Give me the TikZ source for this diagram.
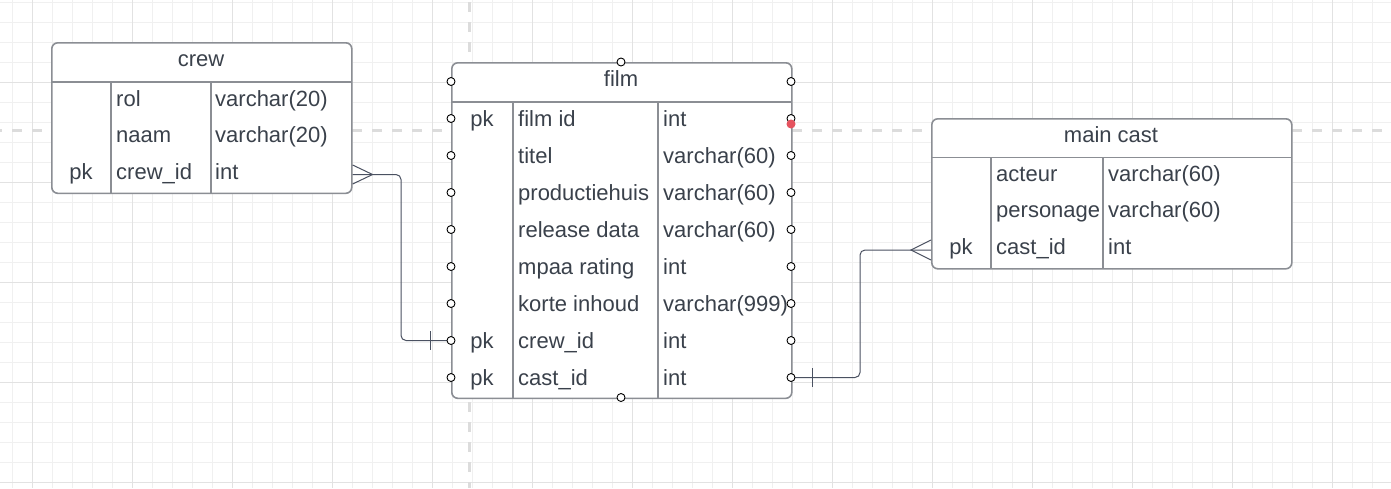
\documentclass[tikz,border=0pt]{standalone}
\usepackage{fontspec}
\setmainfont{Liberation Sans}
\usetikzlibrary{positioning}

\definecolor{gridminor}{HTML}{F0F0F0}
\definecolor{gridmajor}{HTML}{E2E2E2}
\definecolor{guide}{HTML}{DCDCDC}
\definecolor{boxline}{HTML}{8B8E94}
\definecolor{ink}{HTML}{3A414B}
\definecolor{wire}{HTML}{4A5161}
\definecolor{hover}{HTML}{E5535F}

\tikzset{
  entity/.style={draw=boxline, line width=1.6pt, fill=white, rounded corners=6pt, inner sep=0pt, anchor=north west},
  rule/.style={draw=boxline, line width=1.6pt},
  cell/.style={text=ink, font=\fontsize{22}{26}\selectfont, inner sep=0pt, anchor=base west},
  pkcell/.style={cell, anchor=base},
  title/.style={cell, anchor=base},
  port/.style={circle, draw=black, fill=white, line width=0.9pt, inner sep=0pt, minimum size=8pt},
  link/.style={draw=wire, line width=1pt, rounded corners=5pt},
  foot/.style={draw=wire, line width=1pt},
}

\begin{document}
\begin{tikzpicture}[x=1pt,y=-1pt]
    \useasboundingbox (0,0) rectangle (1391,488);
    \fill[white] (0,0) rectangle (1391,488);

    % grid
    \foreach \x in {12,32,...,1392} \draw[gridminor, line width=0.9pt] (\x,0) -- (\x,488);
    \foreach \y in {2,22,...,482} \draw[gridminor, line width=0.9pt] (0,\y) -- (1391,\y);
    \foreach \x in {32,132,...,1332} \draw[gridmajor, line width=1pt] (\x,0) -- (\x,488);
    \foreach \y in {82,182,...,482} \draw[gridmajor, line width=1pt] (0,\y) -- (1391,\y);

    % guides
    \draw[guide, line width=3pt, dash pattern=on 10pt off 10pt] (-8,130) -- (1391,130);
    \draw[guide, line width=3pt, dash pattern=on 10pt off 10pt] (469.5,2) -- (469.5,488);

    % crew
    \node[entity, minimum width=300pt, minimum height=150.5pt] (crew) at (51,42) {};
    \node[title] (crew-title) at (201,66) {crew};
    \draw[rule] (51,82) -- (351,82);
    \draw[rule] (111,82) -- (111,192.5);
    \draw[rule] (211,82) -- (211,192.5);
    \foreach \k/\field/\type [count=\i from 0] in {/rol/varchar(20), /naam/varchar(20), pk/crew\_id/int} {
        \node[pkcell] (crew-k\i) at (81,{106+36.7*\i}) {\k};
        \node[cell] (crew-f\i) at (116,{106+36.7*\i}) {\field};
        \node[cell] (crew-t\i) at (215,{106+36.7*\i}) {\type};
    }

    % film
    \node[entity, minimum width=340pt, minimum height=335.5pt] (film) at (451,62) {};
    \node[title] (film-title) at (621,86) {film};
    \draw[rule] (451,102) -- (791,102);
    \draw[rule] (513,102) -- (513,397.5);
    \draw[rule] (658,102) -- (658,397.5);
    \foreach \k/\field/\type [count=\i from 0] in {pk/film id/int, /titel/varchar(60), /productiehuis/varchar(60),
        /release data/varchar(60), /mpaa rating/int, /korte inhoud/varchar(999), pk/crew\_id/int, pk/cast\_id/int} {
        \node[pkcell] (film-k\i) at (482,{126+37*\i}) {\k};
        \node[cell] (film-f\i) at (518,{126+37*\i}) {\field};
        \node[cell] (film-t\i) at (663,{126+37*\i}) {\type};
    }

    % main cast
    \node[entity, minimum width=360pt, minimum height=150pt] (cast) at (931,118) {};
    \node[title] (cast-title) at (1111,142) {main cast};
    \draw[rule] (931,157.5) -- (1291,157.5);
    \draw[rule] (991,157.5) -- (991,268);
    \draw[rule] (1103,157.5) -- (1103,268);
    \foreach \k/\field/\type [count=\i from 0] in {/acteur/varchar(60), /personage/varchar(60), pk/cast\_id/int} {
        \node[pkcell] (cast-k\i) at (961,{181+36.5*\i}) {\k};
        \node[cell] (cast-f\i) at (996,{181+36.5*\i}) {\field};
        \node[cell] (cast-t\i) at (1108,{181+36.5*\i}) {\type};
    }

    % ports of film
    \coordinate (film-top) at (621,62);
    \coordinate (film-bot) at (621,397.5);
    \foreach \i in {0,...,8} {
        \coordinate (film-l\i) at (451,{81.5+37*\i});
        \coordinate (film-r\i) at (791,{81.5+37*\i});
    }
    \coordinate (crew-out) at (crew.east |- 0,174.5);
    \coordinate (cast-in) at (cast.west |- 0,250);
    \coordinate (bend-a) at (401,174.5);
    \coordinate (bend-b) at (860,250);

    % crew -> film
    \draw[link] (crew-out) -- (bend-a) |- (film-l7);
    \draw[foot] ([yshift=9.5pt]crew-out) -- ([xshift=20pt]crew-out) -- ([yshift=-9.5pt]crew-out);
    \draw[foot] ([xshift=-21pt,yshift=9.5pt]film-l7) -- ([xshift=-21pt,yshift=-9.5pt]film-l7);

    % film -> main cast
    \draw[link] (film-r8) -| (bend-b) -- (cast-in);
    \draw[foot] ([xshift=21pt,yshift=9.5pt]film-r8) -- ([xshift=21pt,yshift=-9.5pt]film-r8);
    \draw[foot] ([yshift=10pt]cast-in) -- ([xshift=-20pt]cast-in) -- ([yshift=-10pt]cast-in);

    \foreach \i in {0,...,8} {
        \node[port] (film-pl\i) at (film-l\i) {};
        \node[port] (film-pr\i) at (film-r\i) {};
    }
    \node[port] (film-pt) at (film-top) {};
    \node[port] (film-pb) at (film-bot) {};
    \node[circle, fill=hover, inner sep=0pt, minimum size=9pt] (hover-dot) at (791,124) {};
\end{tikzpicture}
\end{document}
